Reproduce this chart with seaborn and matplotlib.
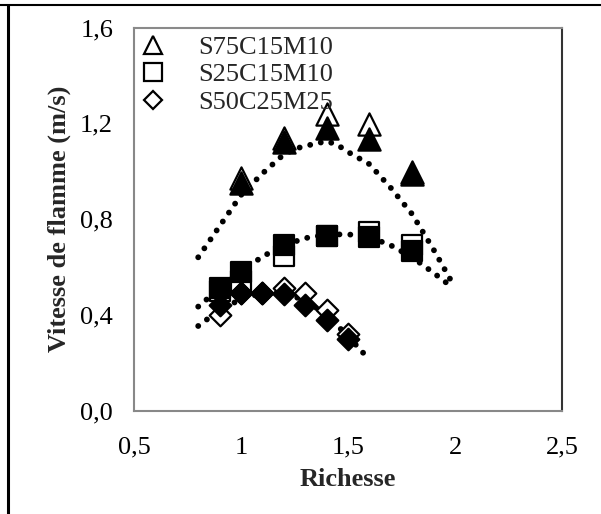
import matplotlib
matplotlib.use("Agg")
import matplotlib.pyplot as plt
import seaborn as sns
import pandas as pd
from matplotlib.lines import Line2D

sns.set_theme(style="white")
plt.rcParams['font.family'] = ['Liberation Serif', 'DejaVu Serif']

# ---- data ----
series_names = ["S75C15M10", "S25C15M10", "S50C25M25"]

richesse_tri = [1.0, 1.2, 1.4, 1.6, 1.8]
s75_open = [0.97, 1.14, 1.24, 1.195, 0.995]
s75_filled = [0.95, 1.12, 1.18, 1.135, 0.99]

richesse_sq = [0.9, 1.0, 1.2, 1.4, 1.6, 1.8]
s25_open = [0.50, 0.54, 0.645, 0.73, 0.745, 0.69]
s25_filled = [0.51, 0.58, 0.69, 0.73, 0.725, 0.665]

richesse_dia = [0.9, 1.0, 1.1, 1.2, 1.3, 1.4, 1.5]
s50_open = [0.40, 0.49, 0.49, 0.51, 0.49, 0.42, 0.32]
s50_filled = [0.44, 0.49, 0.49, 0.485, 0.44, 0.38, 0.30]

trend_x_tri = [0.8, 0.9, 1.0, 1.1, 1.2, 1.26, 1.3, 1.36, 1.4, 1.45, 1.5, 1.6, 1.7, 1.8, 1.9, 1.98]
trend_tri = [0.64, 0.77, 0.90, 0.99, 1.07, 1.095, 1.105, 1.117, 1.125, 1.11, 1.08, 1.029, 0.93, 0.82, 0.672, 0.545]

trend_x_sq = [0.8, 0.9, 1.0, 1.1, 1.2, 1.3, 1.4, 1.5, 1.6, 1.7, 1.8, 1.9, 1.975]
trend_sq = [0.434, 0.51, 0.58, 0.643, 0.69, 0.72, 0.735, 0.736, 0.725, 0.69, 0.64, 0.575, 0.523]

trend_x_dia = [0.8, 0.9, 1.0, 1.1, 1.2, 1.3, 1.4, 1.5, 1.58]
trend_dia = [0.353, 0.42, 0.465, 0.49, 0.49, 0.46, 0.40, 0.31, 0.232]

xticks = [0.5, 1.0, 1.5, 2.0, 2.5]
xtick_labels = ["0,5", "1", "1,5", "2", "2,5"]
yticks = [0.0, 0.4, 0.8, 1.2, 1.6]
ytick_labels = ["0,0", "0,4", "0,8", "1,2", "1,6"]

x_label = "Richesse"
y_label = "Vitesse de flamme (m/s)"

# ---- figure ----
W, H = 601, 514
fig = plt.figure(figsize=(W / 100, H / 100), dpi=100)
ax = fig.add_axes([134 / W, 1 - 410.5 / H, 428 / W, 383 / H])

dot_style = dict(color="black", linewidth=4.2, linestyle=(0, (0.01, 1.85)),
                 dash_capstyle="round")

for tx, ty in [(trend_x_tri, trend_tri), (trend_x_sq, trend_sq), (trend_x_dia, trend_dia)]:
    sns.lineplot(x=tx, y=ty, ax=ax, sort=False, estimator=None, **dot_style)

ms_tri = 16.0
ms_sq = 15.0
ms_dia = 11.0

def pts(x, y, marker, ms, filled):
    sns.scatterplot(x=x, y=y, ax=ax, marker=marker, s=ms ** 2,
                    facecolor="black" if filled else "white",
                    edgecolor="black", linewidth=1.6, zorder=4 if filled else 3)

pts(richesse_tri, s75_open, "^", ms_tri, False)
pts(richesse_sq, s25_open, "s", ms_sq, False)
pts(richesse_dia, s50_open, "D", ms_dia, False)
pts(richesse_tri, s75_filled, "^", ms_tri, True)
pts(richesse_sq, s25_filled, "s", ms_sq, True)
pts(richesse_dia, s50_filled, "D", ms_dia, True)

ax.set_xlim(0.5, 2.5)
ax.set_ylim(0.0, 1.6)
ax.set_xticks(xticks)
ax.set_xticklabels(xtick_labels)
ax.set_yticks(yticks)
ax.set_yticklabels(ytick_labels)
ax.tick_params(axis="both", direction="out", length=5, width=1.4, color="#888888",
               labelsize=19, labelcolor="black")
ax.tick_params(axis="x", pad=14)
ax.tick_params(axis="y", pad=10)

for side, col in [("left", "#888888"), ("bottom", "#888888"), ("top", "#8a8a8a"), ("right", "#333333")]:
    ax.spines[side].set_visible(True)
    ax.spines[side].set_color(col)
    ax.spines[side].set_linewidth(1.5)

ax.set_xlabel(x_label, fontsize=19, fontweight="bold")
ax.set_ylabel(y_label, fontsize=19, fontweight="bold")
ax.xaxis.set_label_coords(0.5, -0.15)
ax.yaxis.set_label_coords(-0.148, 0.5)

handles = [
    Line2D([], [], linestyle="none", marker="^", markersize=12.5, markerfacecolor="white",
           markeredgecolor="black", markeredgewidth=1.6),
    Line2D([], [], linestyle="none", marker="s", markersize=12.5, markerfacecolor="white",
           markeredgecolor="black", markeredgewidth=1.6),
    Line2D([], [], linestyle="none", marker="D", markersize=9.5, markerfacecolor="white",
           markeredgecolor="black", markeredgewidth=1.6),
]
leg = ax.legend(handles, series_names, loc="upper left", bbox_to_anchor=(-0.005, 1.0),
                frameon=False, fontsize=19, handlelength=1.0, handletextpad=1.2,
                labelspacing=0.15, borderaxespad=0.0, borderpad=0.3)

# outer table-like border lines
fig.add_artist(Line2D([0, 1], [1 - 5 / H, 1 - 5 / H], transform=fig.transFigure, color="black", linewidth=1.5))
fig.add_artist(Line2D([8 / W, 8 / W], [0, 1 - 5 / H], transform=fig.transFigure, color="black", linewidth=2.2))

fig.savefig("out.png", dpi=100)
